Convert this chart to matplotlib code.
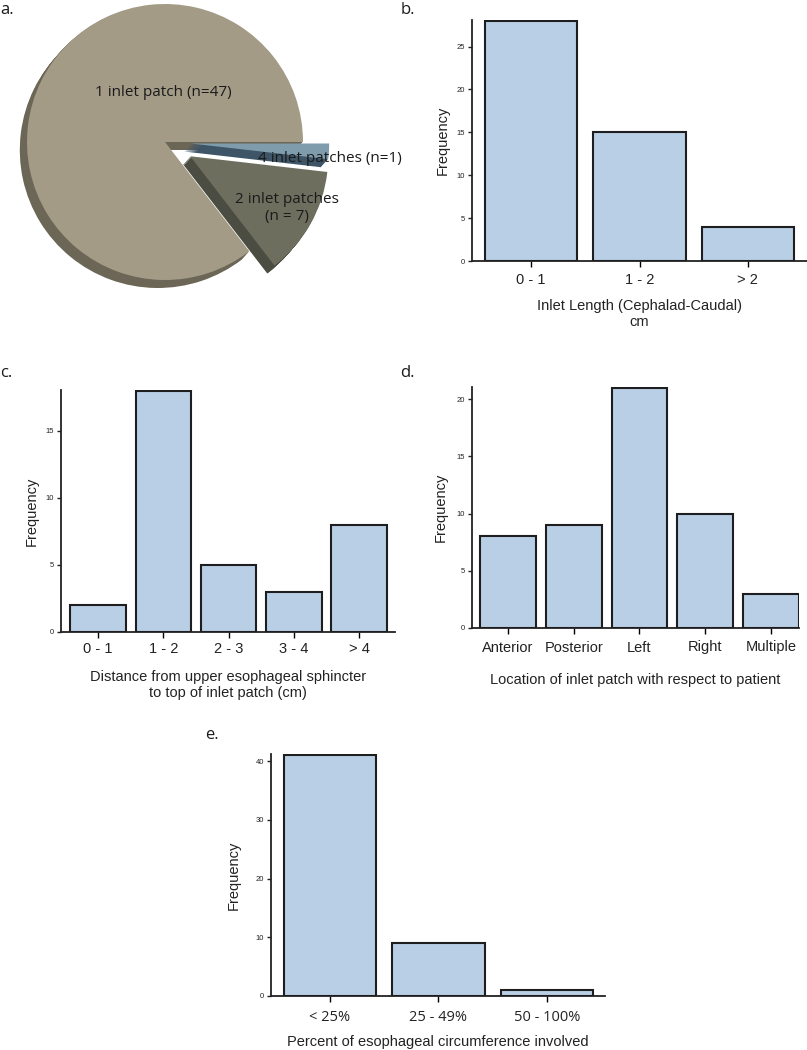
import numpy as np
import matplotlib
matplotlib.use('Agg')
import matplotlib.pyplot as plt

# data
pie_counts = [47, 7, 1]
pie_labels = ['1 inlet patch (n=47)', '2 inlet patches\n(n = 7)', '4 inlet patches (n=1)']

len_cats = ['0 - 1', '1 - 2', '> 2']
len_freq = [28, 15, 4]

dist_cats = ['0 - 1', '1 - 2', '2 - 3', '3 - 4', '> 4']
dist_freq = [2, 18, 5, 3, 8]

loc_cats = ['Anterior', 'Posterior', 'Left', 'Right', 'Multiple']
loc_freq = [8, 9, 21, 10, 3]

circ_cats = ['< 25%', '25 - 49%', '50 - 100%']
circ_freq = [41, 9, 1]

plt.rcParams['font.family'] = ['Liberation Sans', 'DejaVu Sans']

W, H = 807, 1050
fig = plt.figure(figsize=(W / 100, H / 100), dpi=100)

BAR = '#b9cfe6'
EDGE = '#1e1e1e'
SANS = ['Liberation Sans', 'DejaVu Sans']
MYR = ['Open Sans', 'DejaVu Sans']


def px_axes(x0, y0, x1, y1):
    # pixel box (top-left origin) -> figure axes
    return fig.add_axes([x0 / W, 1 - y1 / H, (x1 - x0) / W, (y1 - y0) / H])


def bar_panel(box, cats, vals, ylim, yticks, xlim, xlabel, xlab_pad, ylab_pad,
              tick_pad=3, tick_font=SANS):
    ax = px_axes(*box)
    x = np.arange(len(cats))
    ax.bar(x, vals, width=0.85, color=BAR, edgecolor=EDGE, linewidth=1.5, zorder=3)
    ax.set_xlim(*xlim)
    ax.set_ylim(*ylim)
    ax.set_yticks(yticks)
    ax.set_yticklabels([str(v) for v in yticks], fontsize=5.5, family=SANS)
    ax.set_xticks(x)
    ax.set_xticklabels(cats, fontsize=10.5, color='#222222', family=tick_font)
    ax.tick_params(axis='y', length=3, width=1.0, pad=2, colors='#222222')
    ax.tick_params(axis='x', length=4, width=1.0, pad=tick_pad)
    for s in ['top', 'right']:
        ax.spines[s].set_visible(False)
    for s in ['left', 'bottom']:
        ax.spines[s].set_linewidth(1.3)
        ax.spines[s].set_color('#222222')
    ax.set_xlabel(xlabel, fontsize=10.5, color='#222222', labelpad=xlab_pad,
                  linespacing=1.2, family=SANS)
    ax.set_ylabel('Frequency', fontsize=10.5, color='#222222', labelpad=ylab_pad,
                  family=SANS)
    return ax


# panel b
bar_panel((472, 20, 807, 261), len_cats, len_freq, (0, 28.1), [0, 5, 10, 15, 20, 25],
          (-0.546, 2.546), 'Inlet Length (Cephalad-Caudal)\ncm', 8, 5, tick_pad=5)

# panel c
bar_panel((61, 390, 395, 632), dist_cats, dist_freq, (0, 18.05), [0, 5, 10, 15],
          (-0.57, 4.55), 'Distance from upper esophageal sphincter\nto top of inlet patch (cm)', 10, 5)

# panel d
bar_panel((472, 387, 799, 628), loc_cats, loc_freq, (0, 21.05), [0, 5, 10, 15, 20],
          (-0.55, 4.43), 'Location of inlet patch with respect to patient', 13, 6, tick_pad=5)

# panel e
bar_panel((271, 754, 605, 996), circ_cats, circ_freq, (0, 41.2), [0, 10, 20, 30, 40],
          (-0.544, 2.535), 'Percent of esophageal circumference involved', 7, 11,
          tick_pad=6, tick_font=MYR)

# panel a: exploded pie with a drop-shadow for the 3D look
pa = px_axes(0, 0, 400, 300)
cx, cy, r = 165, 300 - 142, 138
explode = [0, 0.21 * r, 0.19 * r]
top_cols = ['#a39b86', '#6e6e5f', '#7f9cad']
side_cols = ['#6c6656', '#4c4d42', '#3d5566']
for k in range(8, 0, -1):
    pa.pie(pie_counts, explode=explode, startangle=0, counterclock=True,
           colors=side_cols, radius=r, center=(cx - k * 0.9, cy - k * 1.0),
           wedgeprops=dict(linewidth=0), frame=True)
pa.pie(pie_counts, explode=explode, startangle=0, counterclock=True,
       colors=top_cols, radius=r, center=(cx, cy),
       wedgeprops=dict(linewidth=0), frame=True)
pa.set_xlim(0, 400)
pa.set_ylim(0, 300)
pa.set_aspect('auto')
pa.axis('off')

pa.text(163, 300 - 93, pie_labels[0], ha='center', va='center', fontsize=11,
        family=MYR, color='#1a1a1a')
pa.text(287, 300 - 208, pie_labels[1], ha='center', va='center', fontsize=11,
        family=MYR, color='#1a1a1a', linespacing=1.25)
pa.text(258, 300 - 158, pie_labels[2], ha='left', va='center', fontsize=11,
        family=MYR, color='#1a1a1a', clip_on=False)

# panel letters
for lab, x, y in [('a.', 0, 10), ('b.', 401, 10), ('c.', 0, 373), ('d.', 400, 373), ('e.', 205, 735)]:
    fig.text(x / W, 1 - y / H, lab, ha='left', va='center', fontsize=12,
             family=MYR, color='#1a1a1a')

fig.savefig('out.png', dpi=100)
